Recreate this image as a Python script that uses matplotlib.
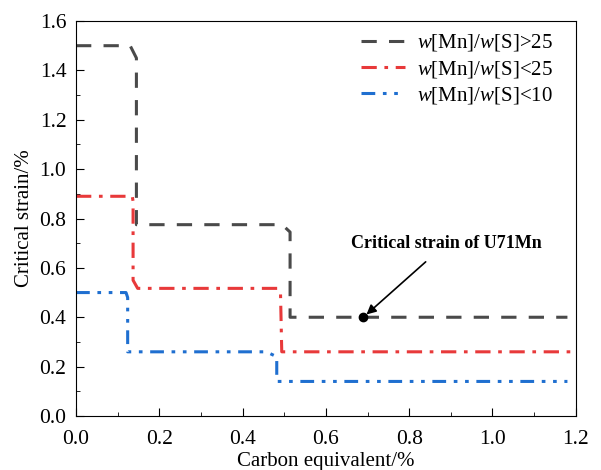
import matplotlib.pyplot as plt
from matplotlib.ticker import MultipleLocator

plt.rcParams['font.family'] = ['Liberation Serif', 'DejaVu Serif']
plt.rcParams['mathtext.fontset'] = 'custom'
plt.rcParams['mathtext.rm'] = 'Liberation Serif'
plt.rcParams['mathtext.it'] = 'Liberation Serif:italic'

# step curves (carbon equivalent vs critical strain)
x_gt25 = [0.0, 0.13, 0.145, 0.145, 0.495, 0.514, 0.514, 1.18]
y_gt25 = [1.5, 1.5, 1.45, 0.775, 0.775, 0.745, 0.40, 0.40]

x_lt25 = [0.0, 0.135, 0.137, 0.137, 0.148, 0.485, 0.491, 0.494, 1.2]
y_lt25 = [0.89, 0.89, 0.87, 0.55, 0.517, 0.517, 0.50, 0.26, 0.26]

x_lt10 = [0.0, 0.12, 0.124, 0.124, 0.457, 0.482, 0.482, 1.18]
y_lt10 = [0.50, 0.50, 0.48, 0.26, 0.26, 0.24, 0.14, 0.14]

labels = [r'$w$[Mn]/$w$[S]>25', r'$w$[Mn]/$w$[S]<25', r'$w$[Mn]/$w$[S]<10']

u71_x, u71_y = 0.69, 0.40

fig = plt.figure(figsize=(6.01, 4.70), dpi=100)
ax = fig.add_axes([0.1265, 0.1149, 0.8315, 0.8404])

ax.plot(x_gt25, y_gt25, color='#4a4a4a', lw=2.2, dashes=(5, 4), label=labels[0])
ax.plot(x_lt25, y_lt25, color='#e8393a', lw=2.2, dashes=(5, 2.5, 1.2, 2.5), label=labels[1])
ax.plot(x_lt10, y_lt10, color='#1f6fd0', lw=2.2, dashes=(4.5, 2.5, 1.2, 2.5, 1.2, 2.5), label=labels[2])

ax.plot(u71_x, u71_y, 'o', color='black', ms=6)
ax.annotate('Critical strain of U71Mn', xy=(u71_x, u71_y), xytext=(0.89, 0.70),
            ha='center', va='center', fontsize=13, fontweight='bold',
            arrowprops=dict(arrowstyle='-|>', color='black', lw=1.2,
                            shrinkA=8, shrinkB=3, mutation_scale=14))

ax.set_xlim(0, 1.2)
ax.set_ylim(0, 1.6)
ax.xaxis.set_major_locator(MultipleLocator(0.2))
ax.xaxis.set_minor_locator(MultipleLocator(0.1))
ax.yaxis.set_major_locator(MultipleLocator(0.2))
ax.yaxis.set_minor_locator(MultipleLocator(0.1))
ax.xaxis.set_major_formatter(plt.FormatStrFormatter('%.1f'))
ax.yaxis.set_major_formatter(plt.FormatStrFormatter('%.1f'))
ax.tick_params(which='both', direction='in', labelsize=15.5)
ax.tick_params(which='major', length=6)
ax.tick_params(which='minor', length=3)
ax.tick_params(axis='x', which='major', pad=10)
ax.tick_params(axis='y', which='major', pad=7)

ax.set_xlabel('Carbon equivalent/%', fontsize=15, labelpad=2)
ax.set_ylabel('Critical strain/%', fontsize=15, labelpad=4)

leg = ax.legend(loc='upper right', bbox_to_anchor=(0.978, 1.0), fontsize=15,
                frameon=False, handlelength=2.1, handletextpad=0.6,
                labelspacing=0.25, borderaxespad=0.15)

plt.savefig('out.png', dpi=100)
plt.close()
